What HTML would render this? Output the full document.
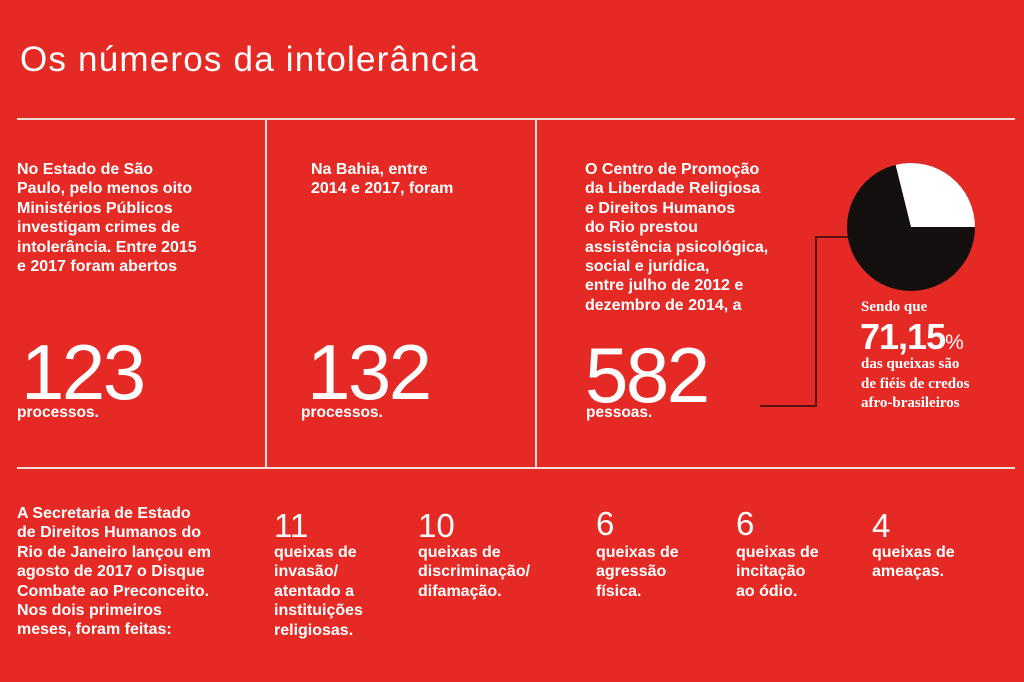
<!DOCTYPE html>
<html><head><meta charset="utf-8"><style>
body{margin:0;width:1024px;height:682px;background:#e52a25;position:relative;overflow:hidden;font-family:"Liberation Sans",sans-serif;color:#fff}
.a{position:absolute}
.t{font-size:16px;font-weight:bold;line-height:19.4px;letter-spacing:0px}
.big{font-size:78px;line-height:78px;letter-spacing:-2.5px}
.p{font-size:15.5px;font-weight:bold}
.n{font-size:33px;line-height:33px}
.s{font-family:"Liberation Serif",serif;font-weight:bold;font-size:15px;line-height:19.5px}
</style></head><body>
<div class="a" style="left:20px;top:40px;font-size:35px;letter-spacing:1.2px">Os números da intolerância</div>
<div class="a" style="left:17px;top:118px;width:998px;height:2px;background:#f3dcd6"></div>
<div class="a" style="left:17px;top:467px;width:998px;height:2px;background:#f3dcd6"></div>
<div class="a" style="left:265px;top:120px;width:2px;height:348px;background:#f3dcd6"></div>
<div class="a" style="left:535px;top:120px;width:2px;height:348px;background:#f3dcd6"></div>

<div class="a t" style="left:17px;top:160px">No Estado de São<br>Paulo, pelo menos oito<br>Ministérios Públicos<br>investigam crimes de<br>intolerância. Entre 2015<br>e 2017 foram abertos</div>
<div class="a big" style="left:21px;top:333px">123</div>
<div class="a p" style="left:17px;top:404px">processos.</div>

<div class="a t" style="left:311px;top:160px">Na Bahia, entre<br>2014 e 2017, foram</div>
<div class="a big" style="left:307px;top:333px">132</div>
<div class="a p" style="left:301px;top:404px">processos.</div>

<div class="a t" style="left:585px;top:160px">O Centro de Promoção<br>da Liberdade Religiosa<br>e Direitos Humanos<br>do Rio prestou<br>assistência psicológica,<br>social e jurídica,<br>entre julho de 2012 e<br>dezembro de 2014, a</div>
<div class="a big" style="left:585px;top:336px">582</div>
<div class="a p" style="left:586px;top:404px">pessoas.</div>

<svg class="a" style="left:0;top:0" width="1024" height="682">
<polyline points="848,237 816,237 816,406 760,406" fill="none" stroke="#5a1212" stroke-width="2"/>
<circle cx="911" cy="227" r="64" fill="#130f0f"/>
<path d="M911,227 L895.6,164.9 A64,64 0 0 1 975,227 Z" fill="#fff"/>
</svg>
<div class="a s" style="left:861px;top:298px">Sendo que</div>
<div class="a" style="left:860px;top:316px;font-size:36px;font-weight:bold;letter-spacing:-1px">71,15<span style="font-size:21px;font-weight:normal">%</span></div>
<div class="a s" style="left:861px;top:355px">das queixas são<br>de fiéis de credos<br>afro-brasileiros</div>

<div class="a t" style="left:17px;top:504px">A Secretaria de Estado<br>de Direitos Humanos do<br>Rio de Janeiro lançou em<br>agosto de 2017 o Disque<br>Combate ao Preconceito.<br>Nos dois primeiros<br>meses, foram feitas:</div>
<div class="a n" style="left:274px;top:509px">11</div>
<div class="a t" style="left:274px;top:543px">queixas de<br>invasão/<br>atentado a<br>instituições<br>religiosas.</div>
<div class="a n" style="left:418px;top:509px">10</div>
<div class="a t" style="left:418px;top:543px">queixas de<br>discriminação/<br>difamação.</div>
<div class="a n" style="left:596px;top:507px">6</div>
<div class="a t" style="left:596px;top:543px">queixas de<br>agressão<br>física.</div>
<div class="a n" style="left:736px;top:507px">6</div>
<div class="a t" style="left:736px;top:543px">queixas de<br>incitação<br>ao ódio.</div>
<div class="a n" style="left:872px;top:509px">4</div>
<div class="a t" style="left:872px;top:543px">queixas de<br>ameaças.</div>
</body></html>
